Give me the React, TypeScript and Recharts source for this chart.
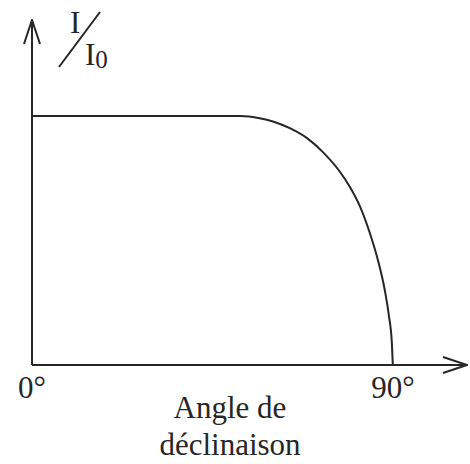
import React from "react";
import { LineChart, Line, XAxis, YAxis } from "recharts";

// angle in degrees, relative intensity I/I0
const angles = [0, 52, 56.8, 60.1, 64.3, 68.6, 72.5, 76.8, 79.3, 81.8, 84.3, 86.3, 88.0, 89.0, 89.75, 90];
const intensity = [1, 1, 0.991, 0.978, 0.951, 0.911, 0.856, 0.776, 0.715, 0.637, 0.528, 0.42, 0.3, 0.2, 0.09, 0];
const xTicks = [0, 90];

const chartData = angles.map((a, i) => ({ angle: a, ratio: intensity[i] }));

const ink = "#262626";
const serif = "'Liberation Serif', 'Times New Roman', serif";

const YLabel = (props: any) => {
  const vb = props.viewBox || { x: 0, y: 0, width: 32 };
  const ax = vb.x + vb.width;
  const top = vb.y;
  return (
    <g fill={ink} fontFamily={serif}>
      <text x={ax + 38} y={top + 13} fontSize={31}>I</text>
      <line x1={ax + 27} y1={top + 47} x2={ax + 68} y2={top - 8} stroke={ink} strokeWidth={2} />
      <text x={ax + 53} y={top + 45} fontSize={31}>
        I<tspan fontSize={25} dy={3}>0</tspan>
      </text>
    </g>
  );
};

const XLabel = (props: any) => {
  const vb = props.viewBox || { x: 0, y: 0, width: 0 };
  const cx = 230;
  return (
    <g fill={ink} fontFamily={serif} fontSize={31} textAnchor="middle">
      <text x={cx} y={vb.y + 53}>Angle de</text>
      <text x={cx} y={vb.y + 90}>déclinaison</text>
    </g>
  );
};

const App: React.FC = () => {
  return (
    <div style={{ position: "absolute", left: 0, top: 0, background: "#fff" }}>
      <LineChart
        width={470}
        height={464}
        data={chartData}
        margin={{ top: 20, right: 3, left: 0, bottom: 0 }}
      >
        <defs>
          <marker
            id="arrow"
            viewBox="0 0 26 18"
            refX={25}
            refY={9}
            markerWidth={26}
            markerHeight={18}
            markerUnits="userSpaceOnUse"
            orient="auto-start-reverse"
          >
            <path d="M1,1 L25,9 L1,17" fill="none" stroke={ink} strokeWidth={2} />
          </marker>
        </defs>
        <XAxis
          dataKey="angle"
          type="number"
          domain={[0, 108.5]}
          ticks={xTicks}
          tickFormatter={(v: number) => `${v}°`}
          tickLine={false}
          tickMargin={5}
          height={99}
          axisLine={{ stroke: ink, strokeWidth: 2, markerEnd: "url(#arrow)" }}
          tick={{ fill: ink, fontSize: 31, fontFamily: serif }}
          label={{ content: XLabel }}
        />
        <YAxis
          type="number"
          domain={[0, 1.3855]}
          width={32}
          tick={false}
          tickLine={false}
          axisLine={{ stroke: ink, strokeWidth: 2, markerStart: "url(#arrow)" }}
          label={{ content: YLabel }}
        />
        <Line
          type="monotone"
          dataKey="ratio"
          stroke={ink}
          strokeWidth={2}
          dot={false}
          isAnimationActive={false}
        />
      </LineChart>
    </div>
  );
};

export default App;
